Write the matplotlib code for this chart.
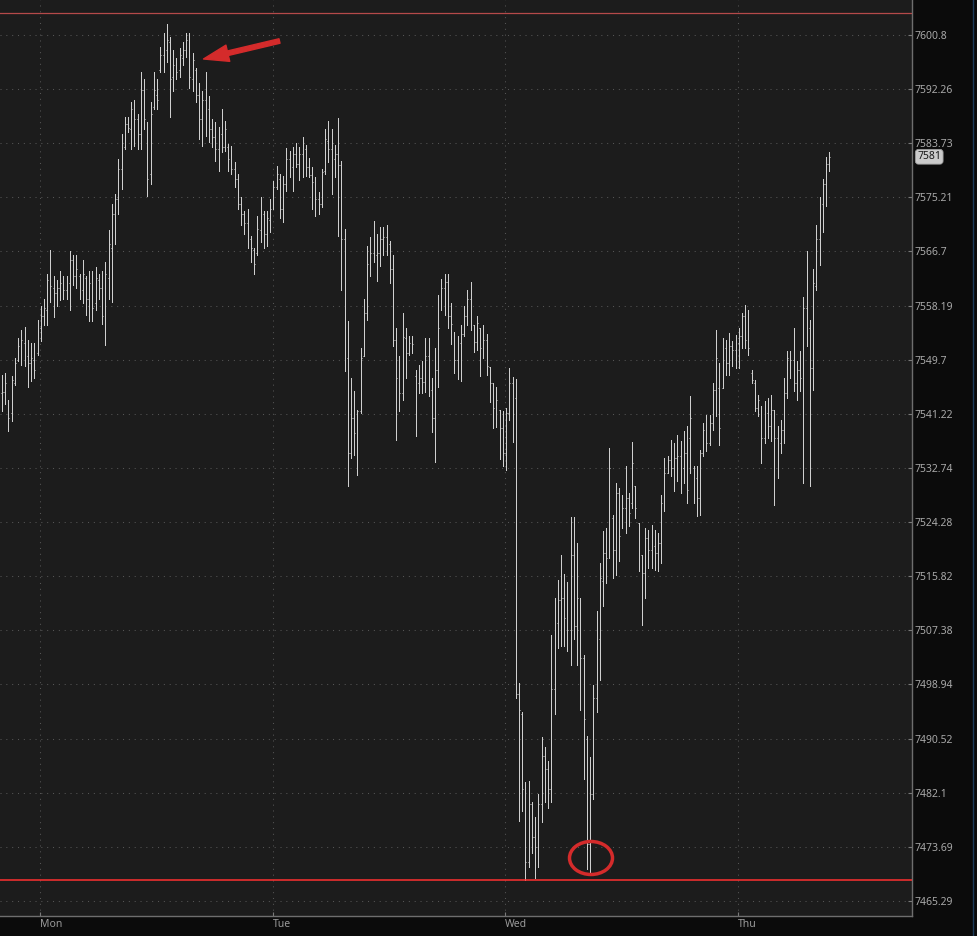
import numpy as np
import matplotlib
matplotlib.use("Agg")
import matplotlib.pyplot as plt
from matplotlib.collections import LineCollection
from matplotlib.patches import Ellipse, FancyArrowPatch, ArrowStyle
from matplotlib.lines import Line2D
from matplotlib.ticker import NullLocator, NullFormatter
import matplotlib.transforms as mtransforms

plt.rcParams['font.family'] = ['Noto Sans', 'DejaVu Sans']

# ---------------- data ----------------
first_bar_hour = -3.92   # hours relative to Monday 00:00
bar_minutes = 20

opens = [
    7544.5, 7544.7, 7542.9, 7541.3, 7546.0, 7549.7, 7551.5, 7552.3, 7550.3, 7549.2,
    7549.7, 7550.7, 7554.6, 7556.5, 7557.5, 7561.7, 7560.9, 7560.1, 7560.9, 7561.7,
    7560.6, 7561.7, 7565.3, 7562.8, 7562.8, 7560.6, 7562.5, 7559.3, 7561.7, 7558.6,
    7562.2, 7560.9, 7557.0, 7562.5, 7567.2, 7572.6, 7575.0, 7579.7, 7583.1, 7586.7,
    7585.9, 7589.1, 7587.5, 7585.2, 7592.2, 7586.7, 7578.9, 7589.4, 7591.4, 7595.3,
    7597.7, 7598.5, 7599.7, 7594.1, 7596.1, 7595.3, 7597.2, 7598.5, 7600.0, 7593.8,
    7595.3, 7591.4, 7587.5, 7590.6, 7589.1, 7585.9, 7584.7, 7582.8, 7585.2, 7583.1,
    7583.1, 7581.2, 7579.7, 7578.1, 7574.2, 7572.6, 7571.1, 7568.7, 7566.9, 7566.4,
    7570.0, 7572.6, 7569.5, 7571.6, 7573.7, 7576.9, 7578.1, 7573.4, 7577.3, 7581.2,
    7580.0, 7582.0, 7580.5, 7582.0, 7582.8, 7580.0, 7578.7, 7577.6, 7575.0, 7574.2,
    7579.4, 7584.1, 7582.8, 7581.2, 7582.0, 7580.3, 7568.7, 7550.0, 7535.1, 7540.6,
    7538.2, 7541.6, 7550.3, 7557.0, 7564.8, 7566.4, 7566.2, 7566.4, 7568.7, 7569.0,
    7567.8, 7564.0, 7552.8, 7546.0, 7544.5, 7553.1, 7550.7, 7552.3, 7547.1, 7546.0,
    7546.8, 7546.2, 7550.3, 7545.0, 7540.6, 7548.1, 7559.3, 7560.9, 7561.9, 7556.5,
    7554.0, 7549.7, 7552.3, 7553.7, 7556.5, 7559.3, 7555.1, 7552.5, 7554.6, 7551.5,
    7552.8, 7548.5, 7546.0, 7542.1, 7541.8, 7539.0, 7535.1, 7541.3, 7546.0, 7543.7,
    7497.4, 7494.4, 7482.7, 7471.4, 7480.3, 7475.2, 7473.6, 7480.3, 7487.8, 7485.8,
    7482.7, 7498.3, 7508.5, 7512.1, 7512.4, 7509.3, 7507.4, 7519.1, 7508.0, 7512.4,
    7503.0, 7490.5, 7474.1, 7481.9, 7496.8, 7506.1, 7515.1, 7519.4, 7518.7, 7524.9,
    7519.9, 7528.8, 7524.1, 7526.5, 7528.0, 7527.3, 7529.9, 7524.1, 7519.1, 7516.3,
    7521.8, 7519.9, 7520.5, 7519.4, 7521.0, 7527.3, 7532.0, 7534.0, 7532.7, 7534.3,
    7534.6, 7532.7, 7535.1, 7537.4, 7532.7, 7531.2, 7528.0, 7535.1, 7538.7, 7536.7,
    7539.8, 7545.0, 7545.3, 7545.3, 7551.5, 7549.2, 7551.8, 7551.2, 7552.3, 7553.4,
    7556.5, 7553.1, 7547.6, 7546.0, 7542.1, 7542.1, 7537.4, 7541.3, 7539.3, 7541.8,
    7537.4, 7536.7, 7538.7, 7544.5, 7550.0, 7549.7, 7546.0, 7548.1, 7546.8, 7557.8,
    7554.6, 7548.4, 7561.2, 7568.7, 7574.2, 7577.3, 7580.5,
]

highs = [
    7547.3, 7547.6, 7543.4, 7547.1, 7550.0, 7553.1, 7554.3, 7554.8, 7552.8, 7552.3,
    7552.3, 7556.0, 7558.1, 7559.3, 7563.2, 7567.0, 7562.9, 7562.2, 7563.7, 7562.8,
    7562.8, 7566.7, 7566.2, 7566.1, 7563.2, 7565.4, 7562.8, 7563.6, 7563.6, 7564.3,
    7563.2, 7563.7, 7565.0, 7570.0, 7574.2, 7575.8, 7581.2, 7585.2, 7587.8, 7587.8,
    7590.3, 7590.6, 7588.3, 7594.9, 7593.8, 7587.0, 7590.2, 7595.0, 7593.8, 7598.9,
    7601.1, 7602.5, 7600.5, 7598.5, 7597.2, 7598.8, 7599.7, 7601.1, 7601.1, 7598.0,
    7595.6, 7593.3, 7591.9, 7595.0, 7591.1, 7587.5, 7587.0, 7586.3, 7589.1, 7587.2,
    7583.6, 7583.3, 7580.8, 7578.9, 7575.3, 7573.1, 7573.4, 7569.2, 7567.2, 7572.3,
    7575.3, 7573.0, 7573.1, 7575.0, 7577.8, 7580.1, 7578.9, 7578.6, 7583.0, 7582.5,
    7583.1, 7583.8, 7583.1, 7584.7, 7583.4, 7581.4, 7580.0, 7578.4, 7576.1, 7579.7,
    7585.9, 7587.2, 7585.9, 7583.4, 7587.7, 7580.9, 7570.3, 7555.7, 7546.8, 7544.8,
    7541.8, 7551.5, 7559.3, 7567.6, 7569.0, 7571.5, 7569.5, 7570.5, 7570.6, 7570.8,
    7568.4, 7566.1, 7554.6, 7550.3, 7557.0, 7554.6, 7553.4, 7553.4, 7548.1, 7548.9,
    7549.5, 7553.1, 7553.1, 7546.8, 7551.5, 7559.8, 7562.3, 7563.1, 7563.1, 7558.6,
    7554.0, 7553.5, 7555.1, 7558.1, 7560.6, 7561.9, 7555.1, 7556.5, 7554.6, 7555.1,
    7553.7, 7548.5, 7546.0, 7545.4, 7541.8, 7541.6, 7542.1, 7548.4, 7547.0, 7546.7,
    7499.1, 7494.7, 7483.8, 7483.9, 7480.6, 7478.3, 7481.9, 7490.8, 7489.2, 7487.0,
    7506.6, 7512.4, 7515.2, 7519.1, 7516.2, 7514.9, 7525.1, 7525.1, 7521.0, 7512.4,
    7503.5, 7490.9, 7487.7, 7498.8, 7510.4, 7517.9, 7522.9, 7523.4, 7535.9, 7525.4,
    7530.4, 7529.6, 7528.5, 7533.1, 7528.8, 7536.8, 7529.9, 7524.1, 7519.1, 7523.4,
    7523.0, 7523.8, 7523.0, 7522.6, 7528.5, 7534.3, 7534.6, 7537.1, 7536.7, 7537.9,
    7537.0, 7538.5, 7539.3, 7544.0, 7533.1, 7533.1, 7535.6, 7539.8, 7541.0, 7541.0,
    7546.0, 7554.3, 7549.2, 7553.1, 7552.8, 7553.9, 7552.6, 7553.6, 7554.6, 7557.0,
    7558.3, 7557.5, 7548.1, 7546.5, 7544.2, 7542.4, 7543.2, 7543.7, 7544.2, 7541.8,
    7539.3, 7540.2, 7546.8, 7551.1, 7551.1, 7554.6, 7549.5, 7551.1, 7559.6, 7566.7,
    7555.9, 7564.0, 7570.8, 7575.3, 7578.1, 7581.6, 7582.3,
]

lows = [
    7541.6, 7542.8, 7538.5, 7540.1, 7545.7, 7549.5, 7548.9, 7548.7, 7545.4, 7546.3,
    7546.8, 7550.4, 7552.6, 7555.1, 7555.1, 7558.8, 7556.4, 7558.1, 7559.0, 7559.2,
    7559.2, 7557.5, 7561.4, 7560.9, 7559.3, 7558.6, 7556.7, 7555.7, 7555.7, 7557.5,
    7559.2, 7555.3, 7552.0, 7559.3, 7558.8, 7567.9, 7572.6, 7576.6, 7582.8, 7585.5,
    7582.8, 7583.3, 7582.8, 7582.8, 7585.9, 7575.5, 7577.3, 7589.1, 7589.1, 7594.9,
    7595.0, 7596.6, 7587.8, 7591.9, 7593.8, 7594.2, 7596.1, 7597.4, 7592.5, 7591.9,
    7590.2, 7584.4, 7583.3, 7584.9, 7583.9, 7583.1, 7580.9, 7579.4, 7582.3, 7582.5,
    7579.4, 7578.9, 7576.9, 7573.4, 7570.8, 7569.5, 7567.2, 7565.1, 7563.2, 7566.1,
    7568.2, 7567.2, 7567.5, 7569.8, 7573.4, 7576.6, 7571.9, 7571.4, 7576.2, 7578.4,
    7576.2, 7580.0, 7578.0, 7578.4, 7578.6, 7578.4, 7573.4, 7572.2, 7572.6, 7573.7,
    7578.9, 7580.8, 7575.8, 7578.4, 7569.2, 7560.6, 7547.9, 7529.9, 7534.3, 7534.8,
    7531.6, 7541.3, 7550.3, 7555.9, 7562.9, 7565.1, 7562.0, 7564.4, 7566.1, 7566.1,
    7561.7, 7551.8, 7537.1, 7541.6, 7543.4, 7546.8, 7550.4, 7550.7, 7537.7, 7544.5,
    7544.5, 7544.7, 7544.0, 7538.4, 7533.7, 7545.4, 7557.5, 7556.7, 7554.6, 7552.1,
    7547.6, 7546.7, 7546.3, 7553.4, 7555.1, 7554.3, 7550.9, 7551.2, 7547.1, 7550.0,
    7547.3, 7543.1, 7539.0, 7539.1, 7534.1, 7533.0, 7532.4, 7540.3, 7536.8, 7496.8,
    7477.7, 7479.2, 7468.6, 7470.6, 7472.8, 7468.9, 7470.6, 7477.5, 7480.6, 7479.8,
    7480.6, 7494.4, 7504.6, 7505.0, 7504.9, 7504.1, 7501.9, 7506.1, 7501.9, 7494.9,
    7484.2, 7470.2, 7469.7, 7481.1, 7494.7, 7499.6, 7511.1, 7514.8, 7518.7, 7515.5,
    7516.0, 7518.2, 7523.4, 7522.6, 7523.7, 7526.5, 7524.9, 7516.6, 7508.2, 7512.4,
    7517.1, 7517.1, 7516.8, 7516.6, 7517.9, 7526.0, 7532.0, 7531.5, 7529.1, 7530.7,
    7528.8, 7530.4, 7527.3, 7532.0, 7527.3, 7525.2, 7525.4, 7534.6, 7535.4, 7536.3,
    7538.7, 7540.9, 7536.3, 7545.3, 7547.3, 7547.3, 7548.7, 7548.4, 7548.4, 7551.5,
    7551.5, 7550.4, 7546.0, 7541.6, 7540.9, 7533.5, 7536.7, 7537.4, 7537.0, 7526.9,
    7531.2, 7535.1, 7536.7, 7543.7, 7546.8, 7544.8, 7543.4, 7544.8, 7530.4, 7551.8,
    7529.9, 7545.0, 7560.6, 7564.5, 7569.8, 7573.9, 7579.4,
]

closes = [
    7544.7, 7546.0, 7540.6, 7546.5, 7549.2, 7551.8, 7552.8, 7550.3, 7549.2, 7550.0,
    7548.1, 7555.0, 7556.5, 7557.8, 7562.2, 7561.2, 7560.1, 7560.9, 7561.7, 7560.6,
    7561.7, 7565.3, 7562.8, 7564.0, 7560.6, 7563.2, 7559.3, 7561.7, 7557.8, 7562.5,
    7560.9, 7556.5, 7563.2, 7567.9, 7572.6, 7575.0, 7579.7, 7582.8, 7586.7, 7586.2,
    7589.1, 7587.5, 7585.2, 7592.2, 7587.5, 7578.1, 7588.3, 7592.2, 7590.6, 7597.7,
    7598.5, 7600.0, 7593.8, 7596.1, 7595.0, 7597.7, 7598.5, 7600.0, 7594.1, 7596.9,
    7591.4, 7587.5, 7590.6, 7589.1, 7585.9, 7584.7, 7582.8, 7585.2, 7583.1, 7585.9,
    7581.2, 7579.7, 7578.1, 7574.2, 7572.6, 7571.1, 7568.7, 7567.2, 7564.8, 7570.3,
    7572.6, 7569.5, 7571.9, 7573.4, 7576.9, 7578.9, 7573.4, 7577.3, 7581.2, 7580.0,
    7582.0, 7580.5, 7582.0, 7582.8, 7580.0, 7578.7, 7577.6, 7575.0, 7574.2, 7579.2,
    7584.4, 7582.8, 7581.2, 7582.0, 7580.3, 7568.7, 7550.0, 7535.1, 7540.6, 7538.2,
    7541.6, 7550.0, 7557.0, 7564.8, 7566.4, 7566.2, 7566.4, 7568.7, 7569.0, 7567.8,
    7564.0, 7552.8, 7546.8, 7544.5, 7553.2, 7550.7, 7552.3, 7552.1, 7546.0, 7546.8,
    7546.2, 7550.3, 7545.0, 7540.6, 7548.1, 7554.6, 7560.9, 7561.9, 7556.5, 7555.3,
    7549.7, 7552.3, 7553.7, 7556.5, 7559.3, 7555.9, 7552.5, 7555.4, 7551.5, 7552.8,
    7548.7, 7546.0, 7542.1, 7543.4, 7539.0, 7535.1, 7541.3, 7546.0, 7543.7, 7497.4,
    7494.9, 7482.7, 7471.4, 7480.3, 7475.2, 7473.6, 7480.3, 7487.8, 7485.8, 7482.7,
    7498.3, 7508.5, 7512.1, 7512.4, 7509.3, 7507.4, 7519.1, 7508.0, 7512.4, 7503.0,
    7493.6, 7474.1, 7481.9, 7496.8, 7506.1, 7515.5, 7519.4, 7518.7, 7532.7, 7519.9,
    7528.8, 7522.1, 7526.5, 7528.0, 7525.7, 7533.5, 7526.5, 7520.5, 7516.3, 7521.8,
    7519.9, 7521.0, 7519.4, 7521.0, 7527.3, 7532.0, 7534.0, 7532.7, 7534.3, 7534.6,
    7532.7, 7535.1, 7529.3, 7540.6, 7531.2, 7528.0, 7535.1, 7538.7, 7536.7, 7539.8,
    7545.0, 7550.0, 7539.0, 7551.5, 7549.2, 7551.8, 7551.2, 7553.1, 7553.4, 7556.5,
    7552.8, 7551.5, 7546.5, 7542.1, 7543.4, 7537.4, 7541.3, 7539.3, 7541.8, 7537.4,
    7536.7, 7538.7, 7544.5, 7550.0, 7549.7, 7546.0, 7548.1, 7546.8, 7557.8, 7564.8,
    7548.4, 7561.7, 7568.7, 7574.2, 7577.3, 7580.5, 7581.6,
]

day_labels = ['Mon', 'Tue', 'Wed', 'Thu']
day_hours = [0, 24, 48, 72]

y_ticks = [7465.29, 7473.69, 7482.1, 7490.52, 7498.94, 7507.38, 7515.82, 7524.28,
           7532.74, 7541.22, 7549.7, 7558.19, 7566.7, 7575.21, 7583.73, 7592.26, 7600.8]
y_tick_labels = ['7465.29', '7473.69', '7482.1', '7490.52', '7498.94', '7507.38',
                 '7515.82', '7524.28', '7532.74', '7541.22', '7549.7', '7558.19',
                 '7566.7', '7575.21', '7583.73', '7592.26', '7600.8']

upper_level = 7604.3
lower_level = 7468.6

# ---------------- figure ----------------
W, H = 977, 936
fig = plt.figure(figsize=(W / 100, H / 100), dpi=100, facecolor='#0b0b0b')
ax_left, ax_right, ax_top, ax_bottom = 0, 911.7, 0, 916
ax = fig.add_axes([ax_left / W, (H - ax_bottom) / H, (ax_right - ax_left) / W, (ax_bottom - ax_top) / H])
ax.set_facecolor('#1c1c1c')

ax.set_yscale('log')
ax.set_ylim(7462.96, 7606.33)
ax.set_xlim(-4.126, 89.92)

n = min(len(opens), len(highs), len(lows), len(closes))
t = first_bar_hour + np.arange(n) * bar_minutes / 60.0
w = 0.09
vsegs, hsegs = [], []
for ti, o, h, l, c in zip(t, opens[:n], highs[:n], lows[:n], closes[:n]):
    vsegs.append([(ti, l), (ti, h)])
    hsegs.append([(ti - w, o), (ti, o)])
    hsegs.append([(ti, c), (ti + w, c)])
ax.add_collection(LineCollection(vsegs, colors='#cfcfcf', linewidths=0.72,
                                 antialiaseds=False, zorder=3))
ax.add_collection(LineCollection(hsegs, colors='#cfcfcf', linewidths=0.72,
                                 antialiaseds=True, zorder=3))

# level lines
ax.axhline(upper_level, color='#b54a4a', lw=0.9, zorder=4)
ax.axhline(lower_level, color='#ff3030', lw=1.1, zorder=4)

# axes styling
for s in ['top', 'left']:
    ax.spines[s].set_visible(False)
for s in ['right', 'bottom']:
    ax.spines[s].set_color('#6e6e6e')
    ax.spines[s].set_linewidth(1.0)

ax.yaxis.tick_right()
ax.set_yticks(y_ticks)
ax.set_yticklabels(y_tick_labels)
ax.yaxis.set_minor_locator(NullLocator())
ax.yaxis.set_minor_formatter(NullFormatter())
ax.set_xticks(day_hours)
ax.set_xticklabels(day_labels)
for lbl in ax.get_xticklabels():
    lbl.set_ha('left')

ax.tick_params(axis='y', which='major', direction='in', length=3, width=0.8,
               color='#7a7a7a', labelcolor='#a8a8a8', labelsize=7.5, pad=2.2)
ax.tick_params(axis='x', which='major', direction='in', length=3, width=0.8,
               color='#7a7a7a', labelcolor='#9a9a9a', labelsize=7.5, pad=2.5)

ax.grid(True, which='major', color='#555555', linestyle=(0, (1, 4.6)), linewidth=0.75)
ax.set_axisbelow(True)

# last price label
trans = mtransforms.blended_transform_factory(ax.transAxes, ax.transData)
ax.text(1.0 + 5.5 / (ax_right - ax_left), closes[n - 1], f"{int(closes[n - 1])}",
        transform=trans, ha='left', va='center', fontsize=7.5, color='#1a1a1a',
        bbox=dict(boxstyle='round,pad=0.18,rounding_size=0.3', fc='#cbcbcb', ec='#9a9a9a', lw=0.6),
        clip_on=False, zorder=10)

# annotations: arrow and circle
arrow = FancyArrowPatch(posA=(279.5 / 911.7, 1 - 41 / 916), posB=(203.5 / 911.7, 1 - 59 / 916),
                        transform=ax.transAxes,
                        arrowstyle=ArrowStyle.Simple(head_length=18, head_width=12, tail_width=3.3),
                        mutation_scale=1, shrinkA=0, shrinkB=0,
                        color='#d42b2b', zorder=6)
ax.add_patch(arrow)
circ = Ellipse((591 / 911.7, 1 - 858 / 916), 43 / 911.7, 33 / 916, transform=ax.transAxes,
               fill=False, ec='#d42b2b', lw=2.5, zorder=6)
ax.add_patch(circ)

# thin blue separator at far right
fig.add_artist(Line2D([972.5 / W, 972.5 / W], [0, 1], transform=fig.transFigure,
                      color='#1d3c5a', lw=1.0))

fig.savefig('out.png', dpi=100, facecolor=fig.get_facecolor())
